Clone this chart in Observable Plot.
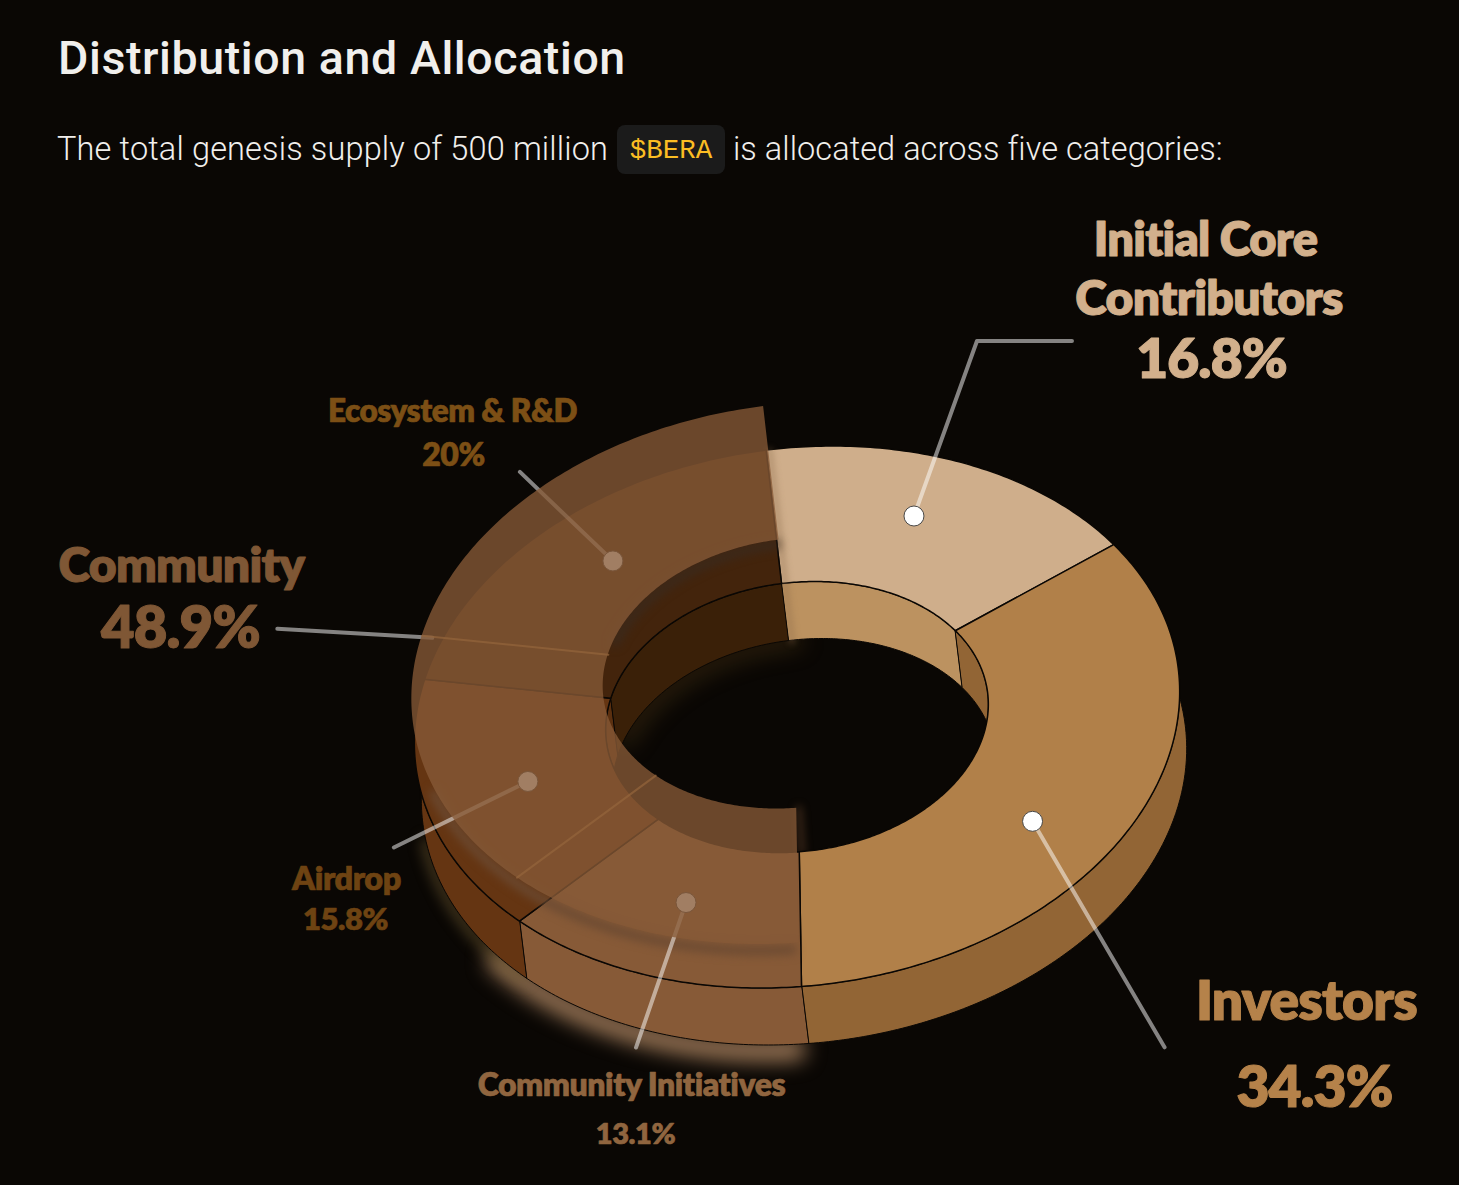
<!DOCTYPE html>
<html><head><meta charset="utf-8">
<script src="https://cdn.jsdelivr.net/npm/d3@7"></script>
<script src="https://cdn.jsdelivr.net/npm/@observablehq/plot@0.6"></script>
<style>
html,body{margin:0;padding:0;background:#0a0704;overflow:hidden}
#head{position:relative;height:190px;width:1459px;font-family:Roboto,sans-serif}
#head h1{position:absolute;left:58px;top:28px;margin:0;font-size:46.5px;line-height:60px;font-weight:500;letter-spacing:.6px;color:#f1efec;white-space:nowrap}
#head .t{position:absolute;top:128px;font-size:32.5px;line-height:42px;font-weight:300;letter-spacing:.15px;color:#f1efec;white-space:nowrap}
#head code{position:absolute;left:617px;top:125px;width:108px;height:49px;border-radius:8px;background:#1b1b1b;color:#fbbd23;font-family:"Liberation Mono",monospace;font-size:27.5px;line-height:52px;text-align:center}
#chart svg{display:block}
#chart svg text{letter-spacing:-0.015em;stroke-linejoin:round}
</style></head><body>
<div id="head">
<h1>Distribution and Allocation</h1>
<div class="t" style="left:57px">The total genesis supply of 500 million</div>
<code>$BERA</code>
<div class="t" style="left:733px;letter-spacing:.06px">is allocated across five categories:</div>
</div>
<div id="chart"></div>
<script>
// ---- values
const categories = ["Initial Core Contributors", "Investors", "Community Initiatives", "Airdrop", "Ecosystem & R&D"];
const shares = [16.8, 34.3, 13.1, 15.8, 20];
const communityGroup = ["Community Initiatives", "Airdrop", "Ecosystem & R&D"];
const communityShare = 48.9;

// ---- styles
const topColors = ["#cfae8b", "#b18049", "#875a37", "#653512", "#43240c"];
const outerWallColors = ["#a07840", "#926535", "#875a37", "#653512", "#3a2008"];
const innerWallColors = ["#bc9260", "#926535", "#875a37", "#5b3010", "#3a2008"];

// ---- donut geometry in chart units (page pixels through the x/y scales)
const geo = {cx: 797, cy: 717, ax: 381, shear: 35.8, ay: 271, hole: 0.5, depthX: 7, depthY: 57, start: -10};
const rad = d => d * Math.PI / 180;
function project(theta, r, z = 0, sx = 0, sy = 0) {
  const s = Math.sin(rad(theta)), c = Math.cos(rad(theta));
  return {
    x: geo.cx + r * (geo.ax * s + geo.shear * c) + z * geo.depthX + sx,
    y: geo.cy - r * geo.ay * c + z * geo.depthY + sy
  };
}
let acc = geo.start;
const slices = categories.map((name, i) => {
  const a0 = acc, a1 = acc + shares[i] * 3.6; acc = a1;
  return {name, i, a0, a1};
});
function sweep(a0, a1) {
  const n = Math.max(2, Math.ceil((a1 - a0) / 0.75));
  return d3.range(n + 1).map(k => a0 + (a1 - a0) * k / n);
}
// band between two projected curves
function band(key, a0, a1, f1, f2, color) {
  return sweep(a0, a1).map(t => {
    const p = f1(t), q = f2(t);
    return {key, color, x1: p.x, y1: p.y, x2: q.x, y2: q.y};
  });
}
const outerWalls = slices.flatMap(s => band(s.name, s.a0, s.a1, t => project(t, 1, 0), t => project(t, 1, 1), outerWallColors[s.i]));
const innerWalls = slices.flatMap(s => band(s.name, s.a0, s.a1, t => project(t, geo.hole, 0), t => project(t, geo.hole, 1), innerWallColors[s.i]));
const topFaces = slices.flatMap(s => band(s.name, s.a0, s.a1, t => project(t, 1, 0), t => project(t, geo.hole, 0), topColors[s.i]));
const lastName = categories[categories.length - 1];
const isLast = d => d.key === lastName;
const notLast = d => d.key !== lastName;

// raised translucent sheet for the Community group
const group = slices.filter(s => communityGroup.includes(s.name));
const lift = {x: -3, y: -44};
const groupStart = group[0].a0, groupEnd = group[group.length - 1].a1;
const sheet = band("sheet", groupStart, groupEnd, t => project(t, 1, 0, lift.x, lift.y), t => project(t, geo.hole, 0, lift.x, lift.y), "#875a37");
const sheetSeams = group.slice(1).flatMap(s => [0, 1].map(k => ({key: s.name, ...project(s.a0, k ? geo.hole : 1, 0, lift.x, lift.y)})));

const arcLine = (a0, a1, r, z, sx = 0, sy = 0) => sweep(a0, a1).map(t => project(t, r, z, sx, sy));

// callouts: where the dot sits on its slice, then the leader's far end relative to it
const calloutAngle = [17.6, 120.4, 198.5, 251, 317];
const calloutRadius = [0.78, 0.757, 0.72, 0.725, 0.79];
const leaderPath = [[[63, -175], [158, -175]], [[132, 226]], [[-50, 145]], [[-134, 66]], [[-93, -89]]];
const dots = categories.map((name, i) => ({name, ...project(calloutAngle[i], calloutRadius[i], 0)}));
const leaders = dots.flatMap((d, i) => [{key: d.name, x: d.x, y: d.y}, ...leaderPath[i].map(([dx, dy]) => ({key: d.name, x: d.x + dx, y: d.y + dy}))]);
const communityAnchor = project(286.6, 1.029, 0);
leaders.push({key: "Community", ...communityAnchor}, {key: "Community", x: communityAnchor.x - 155, y: communityAnchor.y - 9});

// labels
const labelText = ["Initial Core", "Contributors", "16.8%", "Investors", "34.3%", "Community", "48.9%", "Ecosystem & R&D", "20%", "Airdrop", "15.8%", "Community Initiatives", "13.1%"];
const labelX = [1205, 1208.5, 1211, 1306, 1314, 181, 180, 452, 453, 346, 345, 631, 635];
const labelY = [240, 299, 360, 1002, 1088, 566, 629, 411, 455, 879, 920, 1085, 1134];
const labelSize = [47, 48, 55, 55, 57, 48, 58, 31.5, 32, 32.5, 31, 32, 29];
const labelColor = ["#d2b08c", "#d2b08c", "#d2b08c", "#b5824a", "#b5824a", "#7f5735", "#7f5735", "#7c4f15", "#7c4f15", "#6e4312", "#6e4312", "#90653f", "#90653f"];
const labels = labelText.map((text, i) => ({text, x: labelX[i], y: labelY[i], size: labelSize[i], color: labelColor[i]}));

const areaOpts = {x1: "x1", y1: "y1", x2: "x2", y2: "y2", z: "key", fill: "color"};
const xy = {x: "x", y: "y"};
const seamEnds = [project(geo.start, 1, 0, 3, 0), project(geo.start, geo.hole, 1, 3, 0)];
const holeEnd = [project(groupStart, geo.hole, 0, lift.x + 2, lift.y), project(groupStart, geo.hole, 0, 2, 0)];
const textOpts = w => ({...xy, text: "text", fontSize: "size", fill: "color", stroke: "color", strokeWidth: w, fontWeight: 800, fontFamily: "Lato, sans-serif", textAnchor: "middle", lineAnchor: "middle"});

const plot = Plot.plot({
  width: 1459, height: 995, margin: 0,
  style: {background: "transparent", overflow: "visible"},
  x: {axis: null, domain: [0, 1459], range: [0, 1459]},
  y: {axis: null, domain: [190, 1185], range: [0, 995]},
  color: {type: "identity"},
  marks: [
    // glows behind the solid
    Plot.line(arcLine(176, 228, 1, 1, 0, 5), {...xy, stroke: "#9a7656", strokeWidth: 22, imageFilter: "blur(10px)"}),
    Plot.line(arcLine(222, 256, 1, 1, 0, 2), {...xy, stroke: "#6f5a30", strokeWidth: 9, strokeOpacity: 0.7, imageFilter: "blur(7px)"}),
    Plot.line(arcLine(285, 352, geo.hole, 1), {...xy, stroke: "#70501c", strokeWidth: 14, strokeOpacity: 0.4, imageFilter: "blur(11px)"}),
    Plot.line(holeEnd, {...xy, stroke: "#875a37", strokeWidth: 5, strokeOpacity: 0.5, imageFilter: "blur(4px)"}),
    // walls and top faces
    Plot.area(outerWalls, {...areaOpts, stroke: "#0a0704", strokeWidth: 1}),
    Plot.area(innerWalls.filter(notLast), {...areaOpts, stroke: "#0a0704", strokeWidth: 1}),
    Plot.area(topFaces.filter(notLast), {...areaOpts, stroke: "#0a0704", strokeWidth: 1.5}),
    // soft shadow at the edge of the first slice, covered on its far side by the last slice
    Plot.line(seamEnds, {...xy, stroke: "#8a6a48", strokeWidth: 6, strokeOpacity: 0.4, imageFilter: "blur(3px)"}),
    Plot.area(innerWalls.filter(isLast), {...areaOpts, stroke: "#0a0704", strokeWidth: 1}),
    Plot.area(topFaces.filter(isLast), {...areaOpts, stroke: "#0a0704", strokeWidth: 1.5}),
    // soft shadows of the sheet
    Plot.line(arcLine(groupStart + 1, 245, 1, 0, lift.x, lift.y + 6), {...xy, stroke: "#6b4a32", strokeWidth: 9, imageFilter: "blur(5px)"}),
    Plot.line(arcLine(285, 349, geo.hole, 0, lift.x, lift.y + 4), {...xy, stroke: "#3a2a1e", strokeWidth: 8, imageFilter: "blur(5px)"}),
    // leaders and dots lie under the sheet
    Plot.line(leaders, {...xy, z: "key", stroke: "#ffffff", strokeOpacity: 0.5, strokeWidth: 4, strokeLinecap: "round", strokeLinejoin: "round"}),
    Plot.dot(dots, {...xy, r: 10, fill: "#ffffff", stroke: "#4a4a4a", strokeWidth: 1}),
    // sheet
    Plot.area(sheet, {...areaOpts, fillOpacity: 0.78}),
    Plot.line(sheetSeams, {...xy, z: "key", stroke: "#94653c", strokeOpacity: 0.7, strokeWidth: 2}),
    // labels
    Plot.text(labels.filter(d => d.size >= 40), textOpts(1)),
    Plot.text(labels.filter(d => d.size < 40), textOpts(0.6))
  ]
});
document.getElementById("chart").appendChild(plot);
</script>
</body></html>
